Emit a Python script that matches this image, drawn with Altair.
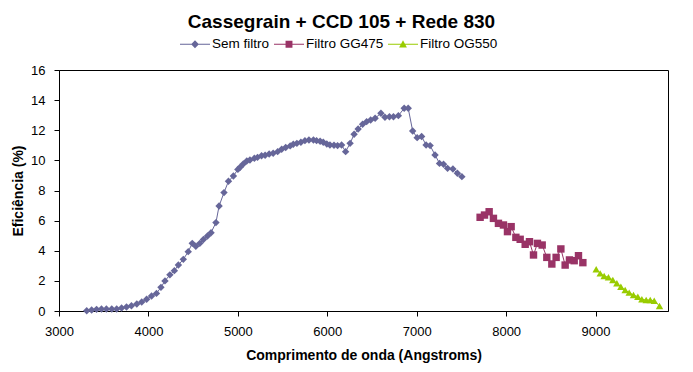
import altair as alt
import pandas as pd

series_names = ["Sem filtro", "Filtro GG475", "Filtro OG550"]
series_colors = ["#666699", "#993366", "#99CC00"]
series_shapes = ["diamond", "square", "triangle-up"]

blue_x = [3310, 3365, 3420, 3475, 3530, 3590, 3645, 3700, 3755, 3810, 3870, 3925, 3980,
          4035, 4090, 4140, 4185, 4240, 4290, 4335, 4390, 4445, 4490, 4530, 4575, 4615,
          4660, 4700, 4755, 4790, 4845, 4895, 4950, 5000, 5025, 5060, 5100, 5135, 5185,
          5220, 5265, 5305, 5350, 5395, 5445, 5490, 5535, 5585, 5620, 5660, 5705, 5750,
          5795, 5845, 5880, 5920, 5955, 5995, 6030, 6075, 6115, 6160, 6205, 6255, 6300,
          6345, 6395, 6440, 6485, 6535, 6600, 6645, 6695, 6740, 6795, 6860, 6905, 6955,
          7005, 7055, 7105, 7150, 7205, 7255, 7300, 7345, 7405, 7455, 7505]
blue_y = [0.02, 0.07, 0.11, 0.13, 0.13, 0.13, 0.13, 0.20, 0.27, 0.35, 0.46, 0.60, 0.78,
          1.00, 1.17, 1.57, 2.00, 2.40, 2.68, 3.05, 3.43, 3.94, 4.49, 4.30, 4.49, 4.75,
          4.98, 5.20, 5.87, 6.97, 7.86, 8.61, 8.96, 9.40, 9.54, 9.76, 9.96, 10.03, 10.14,
          10.20, 10.31, 10.34, 10.42, 10.47, 10.58, 10.74, 10.85, 10.96, 11.07, 11.13, 11.20, 11.31,
          11.35, 11.35, 11.31, 11.27, 11.20, 11.09, 11.02, 11.00, 10.98, 11.02, 10.58, 11.13, 11.73,
          12.08, 12.40, 12.57, 12.68, 12.80, 13.13, 12.86, 12.90, 12.90, 12.97, 13.46, 13.46, 11.95,
          11.51, 11.58, 11.02, 10.98, 10.36, 9.80, 9.74, 9.47, 9.43, 9.14, 8.92]

purple_x = [7709, 7758, 7810, 7858, 7914, 7970, 8015, 8056, 8109, 8157, 8213, 8261,
            8306, 8350, 8403, 8455, 8511, 8559, 8612, 8660, 8708, 8761, 8809, 8858]
purple_y = [6.22, 6.37, 6.59, 6.15, 5.82, 5.71, 5.27, 5.60, 4.89, 4.76, 4.43, 4.60,
            3.72, 4.49, 4.38, 3.56, 3.12, 3.56, 4.12, 3.05, 3.39, 3.34, 3.67, 3.21]

green_x = [9007, 9052, 9096, 9144, 9193, 9238, 9283, 9331, 9376, 9424, 9473, 9518,
           9566, 9611, 9656, 9715]
green_y = [2.77, 2.50, 2.32, 2.24, 2.06, 1.84, 1.61, 1.39, 1.22, 1.06, 0.95, 0.78,
           0.73, 0.73, 0.68, 0.33]

x_ticks = [3000, 4000, 5000, 6000, 7000, 8000, 9000]
y_ticks = [0, 2, 4, 6, 8, 10, 12, 14, 16]

# legend symbols: a short line with the series marker on it (unit coords, 1 = 15 px)
LINE = "M-1,-0.034H1V0.034H-1Z"
legend_paths = [
    LINE + "M0,-0.26L0.26,0L0,0.26L-0.26,0Z",
    LINE + "M-0.23,-0.23H0.23V0.23H-0.23Z",
    LINE + "M0,-0.26L0.26,0.21H-0.26Z",
]

rows = []
for name, xs, ys in zip(series_names, [blue_x, purple_x, green_x], [blue_y, purple_y, green_y]):
    for xv, yv in zip(xs, ys):
        rows.append({"serie": name, "x": xv, "y": yv})
df = pd.DataFrame(rows)

FONT = "Liberation Sans"

x_enc = alt.X("x:Q", scale=alt.Scale(domain=[3000, 9810], nice=False, zero=False),
              axis=alt.Axis(values=x_ticks, title="Comprimento de onda (Angstroms)",
                            format="d", labelFlush=False, grid=False))
y_enc = alt.Y("y:Q", scale=alt.Scale(domain=[0, 16], nice=False),
              axis=alt.Axis(values=y_ticks, title="Eficiência (%)", grid=False))
color_scale = alt.Scale(domain=series_names, range=series_colors)

base = alt.Chart(df)
lines = base.mark_line(strokeWidth=1).encode(
    x=x_enc, y=y_enc, color=alt.Color("serie:N", scale=color_scale, legend=None),
    detail="serie:N")
points = base.mark_point(filled=True, size=55, opacity=1).encode(
    x=x_enc, y=y_enc,
    color=alt.Color("serie:N", scale=color_scale, legend=None),
    shape=alt.Shape("serie:N", scale=alt.Scale(domain=series_names, range=series_shapes),
                    legend=None))
leg = alt.Legend(title=None, orient="none", direction="horizontal", legendX=121, legendY=-41)
legend_layer = base.transform_filter("false").mark_point(filled=True, opacity=1).encode(
    x=x_enc, y=y_enc,
    color=alt.Color("serie:N", scale=color_scale, legend=leg),
    shape=alt.Shape("serie:N", scale=alt.Scale(domain=series_names, range=legend_paths),
                    legend=leg))

chart = alt.layer(lines, points, legend_layer).resolve_scale(
    color="independent", shape="independent"
).properties(
    width=609, height=241,
    background="white",
    autosize=alt.AutoSizeParams(type="none"),
    padding={"left": 51, "top": 62, "right": 17, "bottom": 56},
    title=alt.TitleParams("Cassegrain + CCD 105 + Rede 830", font=FONT, fontSize=19,
                          fontWeight="bold", anchor="middle", frame="group", dx=-22,
                          offset=-3, color="black"),
).configure_view(stroke="black", strokeWidth=1).configure_axis(
    grid=False, domainColor="black", tickColor="black", tickSize=5,
    labelFont=FONT, labelFontSize=13, labelColor="black",
    titleFont=FONT, titleFontSize=14, titleFontWeight="bold", titleColor="black",
).configure_axisX(labelPadding=9, titlePadding=10).configure_axisY(
    labelPadding=9, titlePadding=5).configure_legend(
    labelFont=FONT, labelFontSize=13.5, labelColor="black", symbolSize=900,
    columnPadding=4, labelOffset=2, symbolStrokeWidth=0,
)

chart.save("out.html", embed_options={"renderer": "svg", "actions": False})
